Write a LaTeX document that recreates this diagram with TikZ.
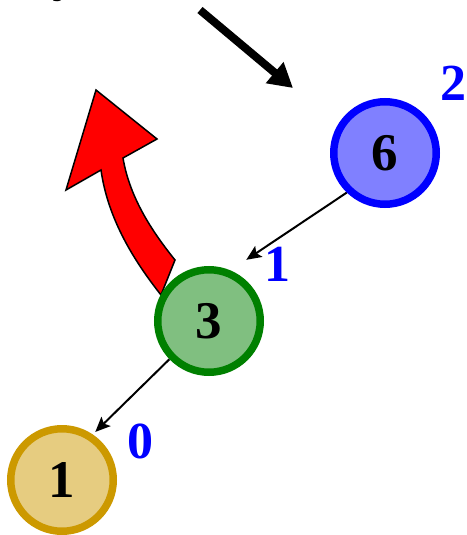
\documentclass[tikz,border=0pt]{standalone}
\usepackage{fontspec}
\setmainfont{Liberation Serif}
\usetikzlibrary{arrows.meta,backgrounds}
\definecolor{gold}{RGB}{204,153,0}
\definecolor{dgreen}{RGB}{0,128,0}
\definecolor{lblue}{RGB}{0,0,255}
\tikzset{
  vert/.style={circle, minimum size=102.5pt, inner sep=0pt, line width=7.5pt,
    fill=#1!50!white, draw=#1,
    font=\fontsize{53}{53}\selectfont\bfseries, text=black},
  lbl/.style={font=\fontsize{52}{52}\selectfont\bfseries, text=lblue, inner sep=0pt},
  thinarrow/.style={line width=2pt, -{Stealth[length=15pt,width=13pt,inset=3pt]}},
  bigarrow/.style={line width=8pt, -{Triangle[length=24pt,width=26pt]}},
  redarrow/.style={fill=red, draw=black, line width=1.5pt, line join=miter}
}
\begin{document}
\begin{tikzpicture}[x=1pt,y=-1pt]
\useasboundingbox (0,0) rectangle (466,535);
\clip (0,0) rectangle (466,535);
% clipped text fragment at top
\node[anchor=base west, inner sep=0pt, font=\fontsize{52}{52}\selectfont\bfseries] (frag) at (52,-9.5) {y};
% vertices
\node[vert=lblue] (n6) at (385,153) {6};
\node[vert=dgreen] (n3) at (209,321) {3};
\node[vert=gold] (n1) at (62,480) {1};
% labels
\node[lbl] (l2) at (453,83) {2};
\node[lbl] (l1) at (277,264) {1};
\node[lbl] (l0) at (140,441) {0};
% big arrow
\coordinate (ba) at (200,10);
\coordinate (bb) at (293,88);
\draw[bigarrow] (ba) -- (bb);
\begin{pgfonlayer}{background}
\draw[thinarrow, shorten >=19pt] (n6.226) -- (n3.67);
\draw[thinarrow, shorten >=3.5pt] (n3.224) -- (n1.56);
\draw[redarrow] (96,90) -- (157,139) -- (123,158)
  .. controls (130,200) and (155,235) .. (175,260)
  -- (161,295)
  .. controls (135,262) and (108,220) .. (101,170)
  -- (66,190) -- cycle;
\end{pgfonlayer}
\end{tikzpicture}
\end{document}
